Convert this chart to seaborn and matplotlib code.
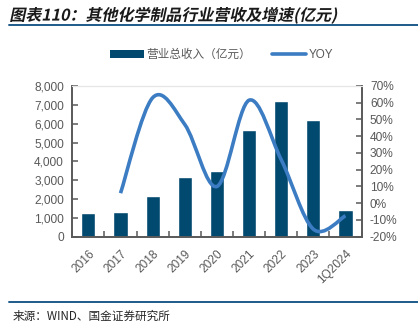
import numpy as np
import pandas as pd
import matplotlib
matplotlib.use("Agg")
import matplotlib.pyplot as plt
import seaborn as sns
from matplotlib.path import Path
from matplotlib.patches import PathPatch, Patch
from matplotlib.lines import Line2D
from matplotlib.ticker import FuncFormatter, FixedLocator
from matplotlib.patheffects import AbstractPathEffect
from matplotlib.transforms import Affine2D

# ---- data ----
categories = ["2016", "2017", "2018", "2019", "2020", "2021", "2022", "2023", "1Q2024"]
revenue = [1245, 1330, 2150, 3175, 3480, 5660, 7220, 6190, 1420]
yoy = [np.nan, 6.0, 63.0, 47.0, 10.0, 61.5, 26.0, -15.5, -7.5]
left_ticks = [0, 1000, 2000, 3000, 4000, 5000, 6000, 7000, 8000]
right_ticks = [-20, -10, 0, 10, 20, 30, 40, 50, 60, 70]
title = "图表110：其他化学制品行业营收及增速(亿元)"
source = "来源：WIND、国金证券研究所"
bar_label = "营业总收入（亿元）"
line_label = "YOY"

BAR_C = "#02496f"
LINE_C = "#3b7cc3"
AX_C = "#595959"
TXT_C = "#595959"


class Oblique(AbstractPathEffect):
    """Slant text glyphs (fake italic) around a fixed baseline height."""
    def __init__(self, y0, angle=12):
        super().__init__()
        self.y0 = y0
        self.angle = angle

    def draw_path(self, renderer, gc, tpath, affine, rgbFace=None):
        sk = Affine2D().translate(0, -self.y0).skew_deg(self.angle, 0).translate(0, self.y0)
        renderer.draw_path(gc, tpath, affine + sk, rgbFace)


sns.set_theme(style="white")
plt.rcParams["font.family"] = ["Liberation Sans", "Noto Sans CJK SC", "DejaVu Sans"]

W, H = 418, 324
fig = plt.figure(figsize=(W / 100, H / 100), dpi=100)
ax = fig.add_axes([0.173, 0.2694, 0.692, 0.4652])

df = pd.DataFrame({"cat": categories, "rev": revenue})
sns.barplot(data=df, x="cat", y="rev", color=BAR_C, width=0.44, saturation=1,
            ax=ax, zorder=2)
ax.set_xlim(-0.5, len(categories) - 0.5)
ax.set_ylim(left_ticks[0], left_ticks[-1])
ax.set_xlabel("")
ax.set_ylabel("")
ax.yaxis.set_major_locator(FixedLocator(left_ticks))
ax.yaxis.set_major_formatter(FuncFormatter(lambda v, p: f"{int(v):,}"))

ax2 = ax.twinx()
ax2.set_ylim(right_ticks[0], right_ticks[-1])
ax2.yaxis.set_major_locator(FixedLocator(right_ticks))
ax2.yaxis.set_major_formatter(FuncFormatter(lambda v, p: f"{int(v)}%"))

# smoothed (Excel style) line through the YOY points
idx = [i for i, v in enumerate(yoy) if not np.isnan(v)]
pts = np.array([[i, yoy[i]] for i in idx], dtype=float)
verts = [pts[0]]
codes = [Path.MOVETO]
n = len(pts)
for k in range(n - 1):
    p0 = pts[k - 1] if k > 0 else pts[k]
    p1 = pts[k]
    p2 = pts[k + 1]
    p3 = pts[k + 2] if k + 2 < n else pts[k + 1]
    verts += [p1 + (p2 - p0) / 6, p2 - (p3 - p1) / 6, p2]
    codes += [Path.CURVE4] * 3
ax2.add_patch(PathPatch(Path(verts, codes), fill=False, edgecolor=LINE_C,
                        linewidth=2.6, capstyle="butt", joinstyle="round", zorder=3))

# spines & ticks
for a in (ax, ax2):
    for s in ("left", "right", "bottom"):
        a.spines[s].set_color(AX_C)
        a.spines[s].set_linewidth(1.2)
    a.spines["top"].set_color("#e6e6e6")
    a.spines["top"].set_linewidth(0.8)

ax.tick_params(axis="y", which="major", direction="in", length=4, width=1.1,
               color=AX_C, labelsize=8.6, labelcolor=TXT_C, pad=6, left=True)
ax2.tick_params(axis="y", which="major", direction="in", length=4, width=1.1,
                color=AX_C, labelsize=8.6, labelcolor=TXT_C, pad=6, right=True)
ax.set_xticks(range(len(categories)))
ax.set_xticklabels(categories)
ax.xaxis.set_minor_locator(FixedLocator(np.arange(-0.5, len(categories), 1.0)))
ax.tick_params(axis="x", which="major", length=0, labelsize=8.6, labelcolor=TXT_C, pad=8)
ax.tick_params(axis="x", which="minor", direction="in", length=4, width=1.1,
               color=AX_C, bottom=True)
for lab in ax.get_xticklabels():
    lab.set_rotation(45)
    lab.set_ha("right")
    lab.set_va("top")
    lab.set_rotation_mode("anchor")
ax.grid(False)
ax2.grid(False)

# legend
handles = [Patch(facecolor=BAR_C, edgecolor="none"),
           Line2D([0], [0], color=LINE_C, linewidth=2.6)]
fig.legend(handles, [bar_label, line_label], loc="center",
           bbox_to_anchor=(0.53, 0.83), ncol=2, frameon=False,
           fontsize=8.4, labelcolor=TXT_C, handlelength=2.9, handleheight=0.6,
           handletextpad=0.2, columnspacing=1.8)

# title, rules, source
title_y = 1 - 15 / H
fig.text(0.025, title_y, title, fontsize=11.5, fontweight="bold", color="#1a1a1a",
         ha="left", va="center", family=["Noto Sans CJK SC", "DejaVu Sans"],
         path_effects=[Oblique(title_y * H, 12)])
fig.add_artist(Line2D([0.022, 1.0], [1 - 25 / H, 1 - 25 / H], color="#1d5a8a",
                      linewidth=1.4, transform=fig.transFigure))
fig.add_artist(Line2D([0.022, 1.0], [1 - 302 / H, 1 - 302 / H], color="#1d5a8a",
                      linewidth=1.4, transform=fig.transFigure))
fig.text(0.03, 1 - 316.5 / H, source, fontsize=8.4, color="#262626",
         ha="left", va="center", family=["Noto Sans CJK SC", "DejaVu Sans"])

fig.savefig("out.png", dpi=100, facecolor="white")
